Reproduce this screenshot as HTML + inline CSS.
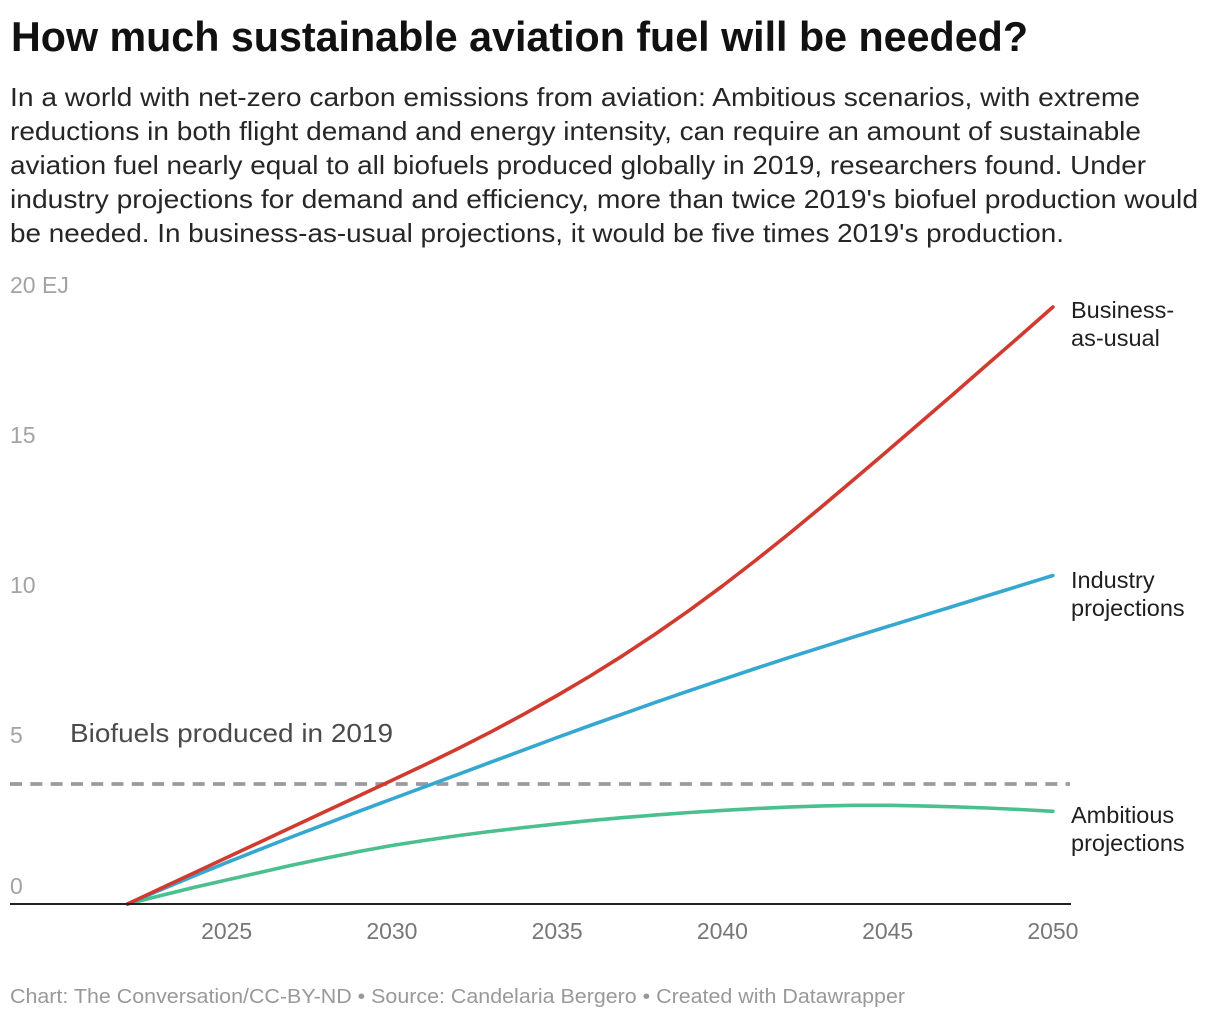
<!DOCTYPE html>
<html>
<head>
<meta charset="utf-8">
<style>
  html, body { margin: 0; padding: 0; background: #ffffff; }
  body { width: 1220px; height: 1020px; overflow: hidden; }
  svg { display: block; font-family: "Liberation Sans", Arial, sans-serif; }
</style>
</head>
<body>
<svg width="1220" height="1020" viewBox="0 0 1220 1020" xmlns="http://www.w3.org/2000/svg">
  <rect width="1220" height="1020" fill="#ffffff"/>

  <!-- Title -->
  <text x="11" y="51" font-size="42" font-weight="bold" fill="#111111" textLength="1017" lengthAdjust="spacingAndGlyphs">How much sustainable aviation fuel will be needed?</text>

  <!-- Subtitle -->
  <g font-size="26" fill="#262626">
    <text x="10" y="106" textLength="1130" lengthAdjust="spacingAndGlyphs">In a world with net-zero carbon emissions from aviation: Ambitious scenarios, with extreme</text>
    <text x="10" y="140" textLength="1131" lengthAdjust="spacingAndGlyphs">reductions in both flight demand and energy intensity, can require an amount of sustainable</text>
    <text x="10" y="174" textLength="1136" lengthAdjust="spacingAndGlyphs">aviation fuel nearly equal to all biofuels produced globally in 2019, researchers found. Under</text>
    <text x="10" y="208" textLength="1188" lengthAdjust="spacingAndGlyphs">industry projections for demand and efficiency, more than twice 2019's biofuel production would</text>
    <text x="10" y="242" textLength="1054" lengthAdjust="spacingAndGlyphs">be needed. In business-as-usual projections, it would be five times 2019's production.</text>
  </g>

  <!-- Y axis labels -->
  <g font-size="23" fill="#a3a3a3">
    <text x="10" y="293">20 EJ</text>
    <text x="10" y="443">15</text>
    <text x="10" y="593">10</text>
    <text x="10" y="743">5</text>
    <text x="10" y="894">0</text>
  </g>

  <!-- Reference dashed line -->
  <line x1="10" y1="784" x2="1070" y2="784" stroke="#9a9aa3" stroke-width="3.8" stroke-dasharray="12 8.3"/>
  <text x="70" y="742" font-size="26" fill="#4a4a4a" textLength="323" lengthAdjust="spacingAndGlyphs">Biofuels produced in 2019</text>

  <!-- Series -->
  <g fill="none" stroke-width="3.6" stroke-linejoin="round" stroke-linecap="round">
    <polyline stroke="#4bbf8d" points="127.5,904 160.55,895.6 193.6,887.5 226.65,880 259.7,872.5 292.75,865 325.8,858.1 358.85,851.5 391.9,845.5 424.95,840.4 458,835.6 491.05,831.4 524.1,827.5 557.15,823.9 590.2,820.6 623.25,817.6 656.3,814.9 689.35,812.5 722.4,810.4 755.45,808.6 788.5,807.1 821.55,805.9 854.6,805.3 887.65,805.3 920.7,805.9 953.75,806.8 986.8,808 1019.85,809.5 1052.9,811.3"/>
    <polyline stroke="#35a7d0" points="127.5,904 160.55,889.9 193.6,876.1 226.65,862.6 259.7,849.4 292.75,836.5 325.8,823.9 358.85,811.3 391.9,799 424.95,786.7 458,774.4 491.05,762.1 524.1,749.8 557.15,737.5 590.2,725.5 623.25,713.8 656.3,702.1 689.35,690.7 722.4,679.6 755.45,668.5 788.5,657.7 821.55,647.2 854.6,636.7 887.65,626.5 920.7,616.3 953.75,606.1 986.8,595.9 1019.85,585.7 1052.9,575.5"/>
    <polyline stroke="#d13b2f" points="127.5,904 160.55,888.55 193.6,873.1 226.65,857.65 259.7,842.2 292.75,826.75 325.8,811.3 358.85,795.85 391.9,780.4 424.95,764.8 458,748.6 491.05,731.8 524.1,714.1 557.15,695.5 590.2,676 623.25,655.3 656.3,633.4 689.35,610.3 722.4,586 755.45,560.5 788.5,534.1 821.55,506.8 854.6,478.9 887.65,450.7 920.7,422.2 953.75,393.7 986.8,364.9 1019.85,336.1 1052.9,307"/>
  </g>

  <!-- X axis baseline -->
  <line x1="10" y1="904" x2="1071" y2="904" stroke="#222222" stroke-width="2"/>

  <!-- X axis labels -->
  <g font-size="23" fill="#777777" text-anchor="middle">
    <text x="226.65" y="939">2025</text>
    <text x="391.9" y="939">2030</text>
    <text x="557.15" y="939">2035</text>
    <text x="722.4" y="939">2040</text>
    <text x="887.65" y="939">2045</text>
    <text x="1052.9" y="939">2050</text>
  </g>

  <!-- Series labels -->
  <g font-size="23.5" fill="#1f1f1f">
    <text x="1071" y="318">Business-</text>
    <text x="1071" y="346">as-usual</text>
    <text x="1071" y="588">Industry</text>
    <text x="1071" y="616">projections</text>
    <text x="1071" y="823">Ambitious</text>
    <text x="1071" y="851">projections</text>
  </g>

  <!-- Footer -->
  <text x="10" y="1003" font-size="20" fill="#999999" textLength="895" lengthAdjust="spacingAndGlyphs">Chart: The Conversation/CC-BY-ND • Source: Candelaria Bergero • Created with Datawrapper</text>
</svg>
</body>
</html>
